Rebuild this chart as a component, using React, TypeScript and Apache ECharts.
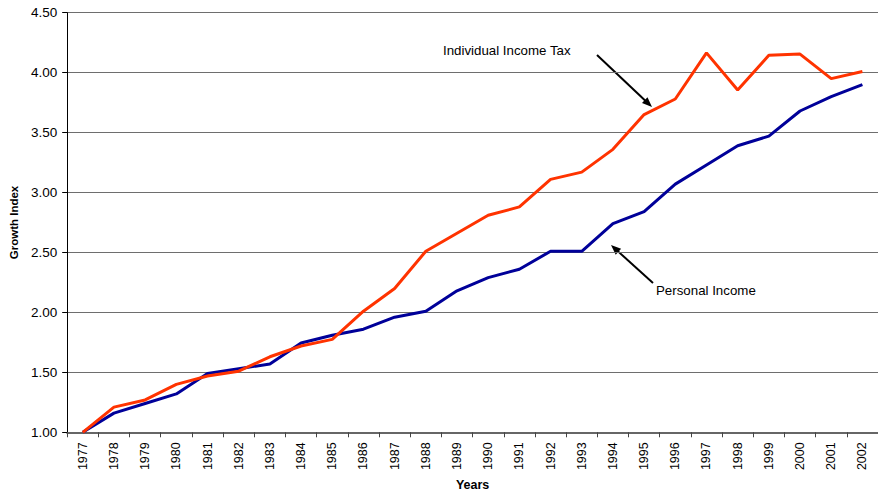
import React, { useEffect, useRef } from "react";
import * as echarts from "echarts";

const years = [
  "1977", "1978", "1979", "1980", "1981", "1982", "1983", "1984", "1985", "1986",
  "1987", "1988", "1989", "1990", "1991", "1992", "1993", "1994", "1995", "1996",
  "1997", "1998", "1999", "2000", "2001", "2002",
];

const personalIncome = [
  1.0, 1.16, 1.24, 1.32, 1.49, 1.53, 1.57, 1.745, 1.81, 1.86,
  1.96, 2.01, 2.18, 2.29, 2.36, 2.51, 2.51, 2.74, 2.84, 3.07,
  3.23, 3.39, 3.47, 3.68, 3.8, 3.9,
];

const individualIncomeTax = [
  1.0, 1.21, 1.27, 1.4, 1.47, 1.51, 1.63, 1.72, 1.775, 2.01,
  2.2, 2.51, 2.66, 2.81, 2.88, 3.11, 3.17, 3.36, 3.65, 3.78,
  4.165, 3.855, 4.145, 4.155, 3.95, 4.01,
];

const seriesNames = ["Individual Income Tax", "Personal Income"];

const FONT = "'Liberation Sans', Arial, sans-serif";

function arrow(x1: number, y1: number, x2: number, y2: number) {
  const dx = x2 - x1;
  const dy = y2 - y1;
  const len = Math.sqrt(dx * dx + dy * dy);
  const ux = dx / len;
  const uy = dy / len;
  const hl = 10;
  const hw = 4;
  const bx = x2 - ux * hl;
  const by = y2 - uy * hl;
  return [
    {
      type: "line",
      shape: { x1, y1, x2: bx + ux * 2, y2: by + uy * 2 },
      style: { stroke: "#000", lineWidth: 2 },
      silent: true,
    },
    {
      type: "polygon",
      shape: {
        points: [
          [x2, y2],
          [bx - uy * hw, by + ux * hw],
          [bx + uy * hw, by - ux * hw],
        ],
      },
      style: { fill: "#000" },
      silent: true,
    },
  ];
}

export default function App() {
  const ref = useRef<HTMLDivElement>(null);
  useEffect(() => {
    if (!ref.current) return;
    const chart = echarts.init(ref.current, undefined, { renderer: "svg" });
    chart.setOption({
      animation: false,
      backgroundColor: "#ffffff",
      textStyle: { fontFamily: FONT },
      grid: { left: 67, right: -6, top: 12.7, bottom: 63.3, containLabel: false },
      xAxis: {
        type: "category",
        data: years,
        boundaryGap: true,
        name: "Years",
        nameLocation: "middle",
        nameGap: 45,
        nameTextStyle: { fontFamily: FONT, fontSize: 12.5, fontWeight: "bold", color: "#000" },
        axisLine: { show: true, lineStyle: { color: "#666", width: 2 } },
        axisTick: { show: true, length: 5, lineStyle: { color: "#444", width: 1 } },
        axisLabel: {
          rotate: 90,
          margin: 10,
          interval: 0,
          fontFamily: FONT,
          fontSize: 12.5,
          color: "#000",
        },
        splitLine: { show: false },
      },
      yAxis: {
        type: "value",
        min: 1,
        max: 4.5,
        interval: 0.5,
        name: "Growth Index",
        nameLocation: "middle",
        nameGap: 44,
        nameTextStyle: { fontFamily: FONT, fontSize: 11.5, fontWeight: "bold", color: "#000" },
        axisLine: { show: true, lineStyle: { color: "#000", width: 1 } },
        axisTick: { show: true, length: 5, lineStyle: { color: "#000", width: 1 } },
        axisLabel: {
          margin: 10,
          fontFamily: FONT,
          fontSize: 13.5,
          color: "#000",
          formatter: (v: number) => v.toFixed(2),
        },
        splitLine: { show: true, lineStyle: { color: "#6e6e6e", width: 1 } },
      },
      series: [
        {
          name: seriesNames[1],
          type: "line",
          data: personalIncome,
          symbol: "none",
          lineStyle: { color: "#000099", width: 3 },
          z: 2,
        },
        {
          name: seriesNames[0],
          type: "line",
          data: individualIncomeTax,
          symbol: "none",
          lineStyle: { color: "#ff3300", width: 3 },
          z: 3,
        },
      ],
      graphic: [
        {
          type: "text",
          left: 443,
          top: 44,
          style: { text: seriesNames[0], font: "13.3px " + FONT, fill: "#000" },
          silent: true,
        },
        {
          type: "text",
          left: 656,
          top: 284,
          style: { text: seriesNames[1], font: "13.3px " + FONT, fill: "#000" },
          silent: true,
        },
        ...arrow(597, 55, 652, 107),
        ...arrow(653, 283, 611, 245),
      ],
    });
    return () => chart.dispose();
  }, []);
  return (
    <div
      ref={ref}
      style={{ position: "absolute", left: 0, top: 0, width: 878, height: 496 }}
    />
  );
}
